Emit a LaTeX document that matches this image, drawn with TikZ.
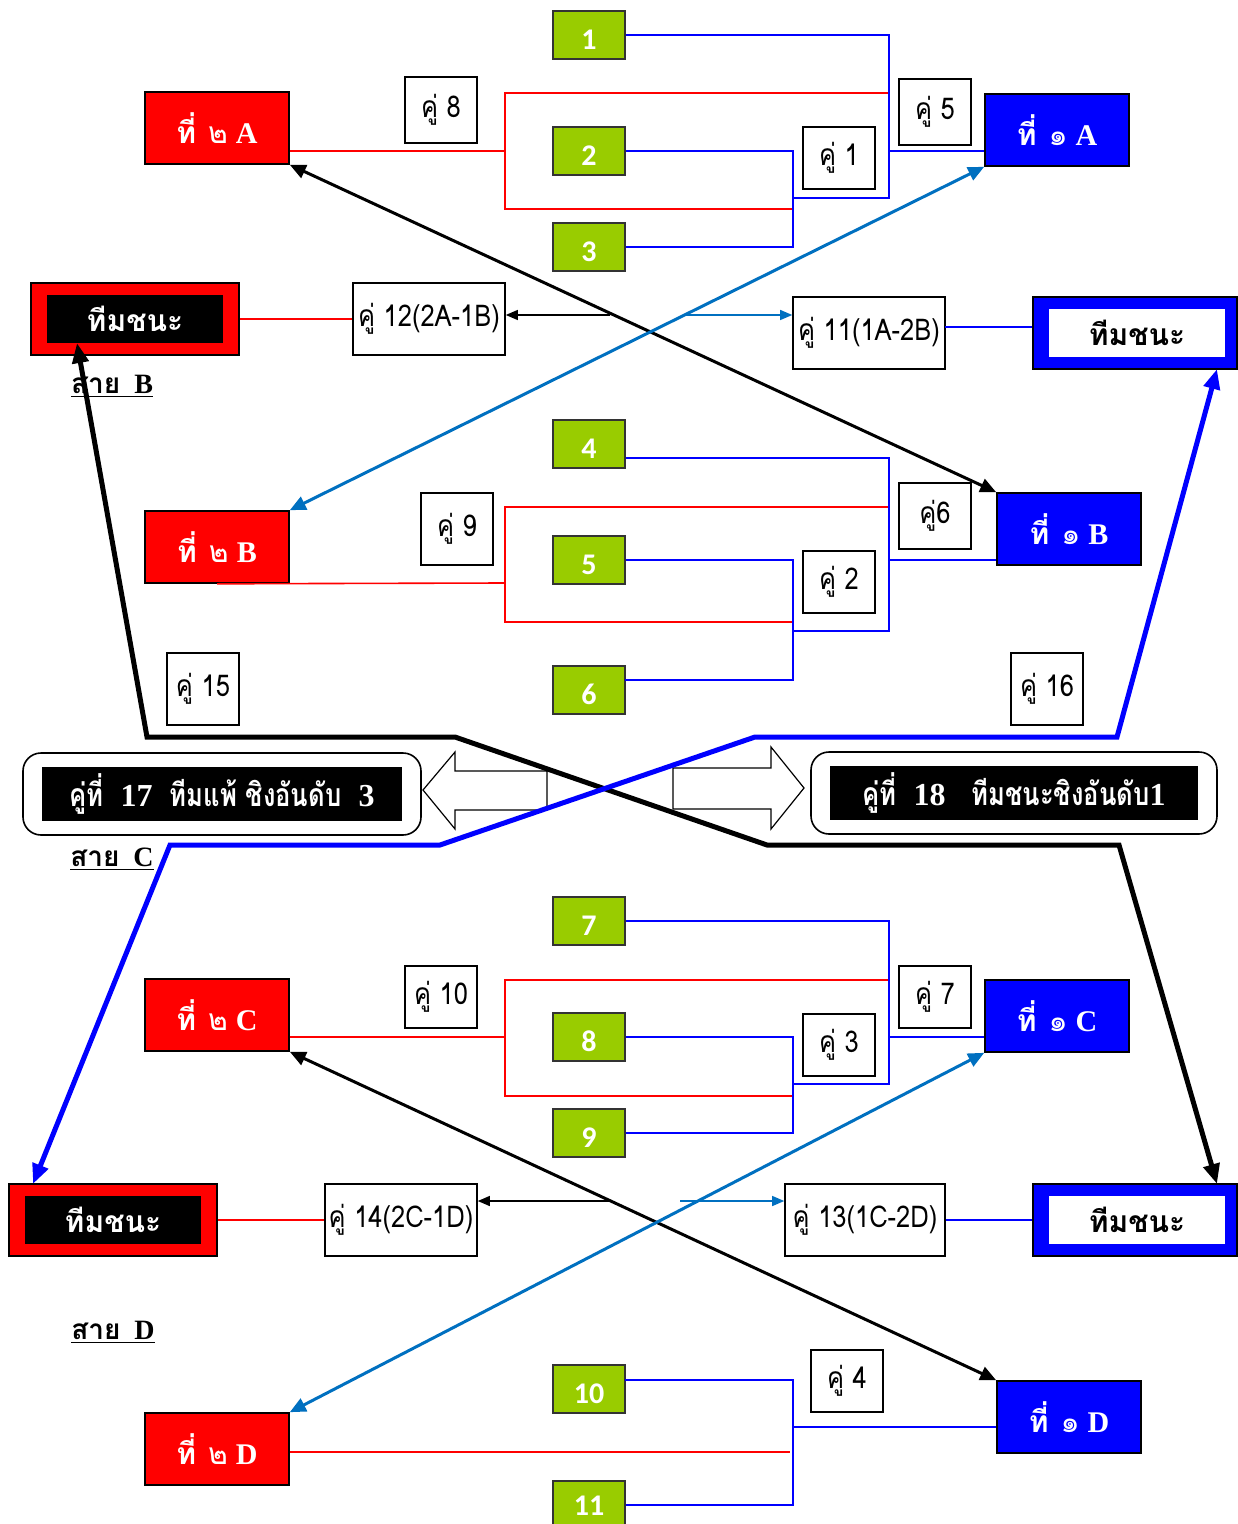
\documentclass[tikz,border=0pt]{standalone}
\usepackage{fontspec}
\setmainfont{Liberation Serif}
\newfontfamily\thaifont[Script=Thai]{Loma}
\newfontfamily\thaicond[Script=Thai,FakeStretch=0.85]{Loma}
\newfontfamily\thaibig[Script=Thai,FakeStretch=0.8]{Loma}
\newfontfamily\numfont{Carlito}
\usetikzlibrary{arrows.meta}

\definecolor{seedgreen}{RGB}{153,204,0}
\definecolor{arrowblue}{RGB}{0,112,192}

\newcommand{\teamlabel}[2]{{\thaifont\bfseries ที่}\hspace{6pt}{\thaifont #1}\hspace{4pt}\textbf{#2}}
\newcommand{\pairlabel}[1]{\thaicond คู่ #1}

\tikzset{
    seed/.style={draw=black!80, line width=0.8pt, fill=seedgreen, text=white, minimum width=36pt, minimum height=24pt, inner sep=0pt, text height=14.5pt, font=\numfont\bfseries\fontsize{15}{15}\selectfont},
    second/.style={draw=black, line width=0.8pt, fill=red, text=white, minimum width=72pt, minimum height=36pt, inner sep=0pt, font=\fontsize{15}{15}\selectfont},
    first/.style={second, fill=blue},
    pair/.style={draw=black, line width=0.8pt, fill=white, minimum width=36pt, minimum height=33pt, inner sep=1pt, font=\fontsize{15}{15}\selectfont},
    widepair/.style={pair, minimum width=76pt, minimum height=36pt},
    winframeL/.style={draw=black, line width=0.8pt, fill=red, minimum width=104pt, minimum height=36pt, inner sep=0pt},
    winframeR/.style={winframeL, fill=blue, minimum width=102pt},
    winL/.style={fill=black, text=white, minimum width=88pt, minimum height=24pt, inner sep=0pt, font=\thaifont\bfseries\fontsize{15}{15}\selectfont},
    winR/.style={winL, fill=white, text=black},
    finalframe/.style={draw=black, line width=0.8pt, rounded corners=9pt, fill=white, minimum height=41pt, inner sep=0pt},
    finaltext/.style={fill=black, text=white, minimum height=27pt, inner sep=0pt, font=\thaibig\bfseries\fontsize{16}{16}\selectfont},
    lane/.style={inner sep=0pt, font=\fontsize{14}{14}\selectfont},
    redline/.style={red, line width=0.8pt},
    blueline/.style={blue, line width=0.8pt},
    crossblack/.style={black, line width=1.5pt, {Triangle[length=8pt,width=7pt]}-{Triangle[length=8pt,width=7pt]}},
    crosslight/.style={arrowblue, line width=1.5pt, {Triangle[length=8pt,width=7pt]}-{Triangle[length=8pt,width=7pt]}},
    pathblack/.style={black, line width=2.5pt, {Triangle[length=10pt,width=8pt]}-{Triangle[length=10pt,width=8pt]}},
    pathblue/.style={blue, line width=2.5pt, {Triangle[length=10pt,width=8pt]}-{Triangle[length=10pt,width=8pt]}},
    thinarrow/.style={line width=0.6pt, -{Triangle[length=6pt,width=5pt]}},
    blockarrow/.style={draw=black, line width=0.6pt, fill=white}
}

\begin{document}
\begin{tikzpicture}[x=0.5pt,y=-0.5pt]
    \useasboundingbox (0,0) rectangle (1237,1524);
    \fill[white] (0,0) rectangle (1237,1524);

    % seeds
    \foreach \n/\y in {1/35,2/151,3/247,4/444,5/560,6/690,7/921,8/1037,9/1133,10/1389}
        \node[seed] (g\n) at (589,\y) {\n};
    \node[seed, text height=10pt] (g11) at (589,1505) {11};

    \node[second] (rA) at (217,128) {\teamlabel{๒}{A}};
    \node[second] (rB) at (217,547) {\teamlabel{๒}{B}};
    \node[second] (rC) at (217,1015) {\teamlabel{๒}{C}};
    \node[second] (rD) at (217,1449) {\teamlabel{๒}{D}};
    \node[first] (bA) at (1057,130) {\teamlabel{๑}{A}};
    \node[first] (bB) at (1069,529) {\teamlabel{๑}{B}};
    \node[first] (bC) at (1057,1016) {\teamlabel{๑}{C}};
    \node[first] (bD) at (1069,1417) {\teamlabel{๑}{D}};

    \node[pair] (m8) at (441,110) {\pairlabel{8}};
    \node[pair] (m5) at (935,112) {\pairlabel{5}};
    \node[pair, minimum height=31pt] (m1) at (839,158) {\pairlabel{1}};
    \node[widepair] (m12) at (429,319) {\pairlabel{12(2A-1B)}};
    \node[widepair] (m11) at (869,333) {\pairlabel{11(1A-2B)}};
    \node[pair, minimum height=36pt] (m9) at (457,529) {\pairlabel{9}};
    \node[pair] (m6) at (935,516) {\thaicond คู่6};
    \node[pair, minimum height=31pt] (m2) at (839,582) {\pairlabel{2}};
    \node[pair, minimum height=36pt] (m15) at (203,689) {\pairlabel{15}};
    \node[pair, minimum height=36pt] (m16) at (1047,689) {\pairlabel{16}};
    \node[pair, minimum height=31pt] (m10) at (441,997) {\pairlabel{10}};
    \node[pair, minimum height=31pt] (m7) at (935,997) {\pairlabel{7}};
    \node[pair, minimum height=31pt] (m3) at (839,1045) {\pairlabel{3}};
    \node[widepair] (m14) at (401,1220) {\pairlabel{14(2C-1D)}};
    \node[widepair, minimum width=80pt] (m13) at (865,1220) {\pairlabel{13(1C-2D)}};
    \node[pair, minimum height=31pt] (m4) at (847,1381) {\pairlabel{4}};

    \node[winframeL] (wA) at (135,319) {};
    \node[winL] (wAin) at (135,319) {ทีมชนะ};
    \node[winframeR] (wB) at (1135,333) {};
    \node[winR] (wBin) at (1137,333) {ทีมชนะ};
    \node[winframeL] (wC) at (113,1220) {};
    \node[winL] (wCin) at (113,1220) {ทีมชนะ};
    \node[winframeR] (wD) at (1135,1220) {};
    \node[winR] (wDin) at (1137,1220) {ทีมชนะ};

    \node[finalframe, minimum width=199pt] (f17) at (222,794) {};
    \node[finaltext, minimum width=180pt] (f17in) at (222,794) {คู่ที่\ \ {\rmfamily 17}\ \ ทีมแพ้ ชิงอันดับ\ \ {\rmfamily 3}};
    \node[finalframe, minimum width=203pt] (f18) at (1014,793) {};
    \node[finaltext, minimum width=184pt] (f18in) at (1014,793) {คู่ที่\ \ {\rmfamily 18}\ \ \ ทีมชนะชิงอันดับ{\rmfamily 1}};

    \node[lane] (sB) at (112,386) {\underline{{\thaifont\bfseries สาย}\ \ \textbf{B}}};
    \node[lane] (sC) at (112,859) {\underline{{\thaifont\bfseries สาย}\ \ \textbf{C}}};
    \node[lane] (sD) at (113,1332) {\underline{{\thaifont\bfseries สาย}\ \ \textbf{D}}};

    % big hollow arrows
    \draw[blockarrow] (547,771) -- (455,771) -- (455,752) -- (423,790) -- (455,829) -- (455,810) -- (547,810) -- cycle;
    \draw[blockarrow] (673,768) -- (771,768) -- (771,747) -- (804,788) -- (771,829) -- (771,809) -- (673,809) -- cycle;

    % section A
    \coordinate (jA1) at (793,198);
    \coordinate (jA5) at (889,151);
    \coordinate (jA8) at (505,151);
    \coordinate (eA1) at (889,93);
    \coordinate (eA2) at (793,209);
    \draw[redline] (rA.east |- jA8) -- (jA8);
    \draw[redline] (eA1) -| (jA8) |- (eA2);
    \draw[blueline] (g2.east) -| (jA1) |- (g3.east);
    \draw[blueline] (g1.east) -| (jA5) -- (jA5 -| bA.west);
    \draw[blueline] (jA1) -| (jA5);

    % section B
    \coordinate (jB2) at (793,631);
    \coordinate (jB6) at (889,560);
    \coordinate (jB9) at (505,583);
    \coordinate (eB4) at (889,458);
    \coordinate (eB6) at (625,680);
    \coordinate (eB1) at (889,507);
    \coordinate (eB2) at (793,622);
    \draw[redline] (rB.south) -- (jB9);
    \draw[redline] (eB1) -| (jB9) |- (eB2);
    \draw[blueline] (eB4 -| g4.east) -- (eB4) |- (jB2);
    \draw[blueline] (g5.east) -| (jB2) |- (eB6);
    \draw[blueline] (jB6) -- (jB6 -| bB.west);

    % section C
    \coordinate (jC3) at (793,1084);
    \coordinate (jC7) at (889,1037);
    \coordinate (jC10) at (505,1037);
    \coordinate (eC1) at (889,980);
    \coordinate (eC2) at (793,1096);
    \draw[redline] (rC.east |- jC10) -- (jC10);
    \draw[redline] (eC1) -| (jC10) |- (eC2);
    \draw[blueline] (g8.east) -| (jC3) |- (g9.east);
    \draw[blueline] (g7.east) -| (jC7) -- (jC7 -| bC.west);
    \draw[blueline] (jC3) -| (jC7);

    % section D
    \coordinate (jD4) at (793,1427);
    \coordinate (eD10) at (625,1380);
    \coordinate (eD2) at (790,1452);
    \draw[redline] (rD.east |- eD2) -- (eD2);
    \draw[blueline] (eD10) -| (jD4) |- (g11.east);
    \draw[blueline] (jD4) -- (jD4 -| bD.west);

    % winners
    \coordinate (wBl) at (945,327);
    \draw[redline] (wA.east) -- (m12.west);
    \draw[blueline] (wBl) -- (wBl -| wB.west);
    \draw[redline] (wC.east) -- (m14.west);
    \draw[blueline] (m13.east) -- (wD.west);

    \coordinate (s12) at (610,315);
    \coordinate (s11) at (683,315);
    \coordinate (s14) at (610,1201);
    \coordinate (s13) at (680,1201);
    \draw[thinarrow] (s12) -- (s12 -| m12.east);
    \draw[thinarrow, arrowblue] (s11) -- (s11 -| m11.west);
    \draw[thinarrow] (s14) -- (s14 -| m14.east);
    \draw[thinarrow, arrowblue] (s13) -- (s13 -| m13.west);

    \draw[crossblack] (rA.south east) -- (bB.north west);
    \draw[crosslight] (bA.south west) -- (rB.north east);
    \draw[crossblack] (rC.south east) -- (bD.north west);
    \draw[crosslight] (bC.south west) -- (rD.north east);

    % paths to the final
    \coordinate (tA) at (77,343);
    \coordinate (tD) at (1217,1184);
    \coordinate (tB) at (1217,369);
    \coordinate (tC) at (33,1184);
    \draw[pathblack] (tA) -- (147,737) -- (455,737) -- (767,845) -- (1119,845) -- (tD);
    \draw[pathblue] (tB) -- (1117,737) -- (755,737) -- (440,845) -- (170,845) -- (tC);
\end{tikzpicture}
\end{document}
